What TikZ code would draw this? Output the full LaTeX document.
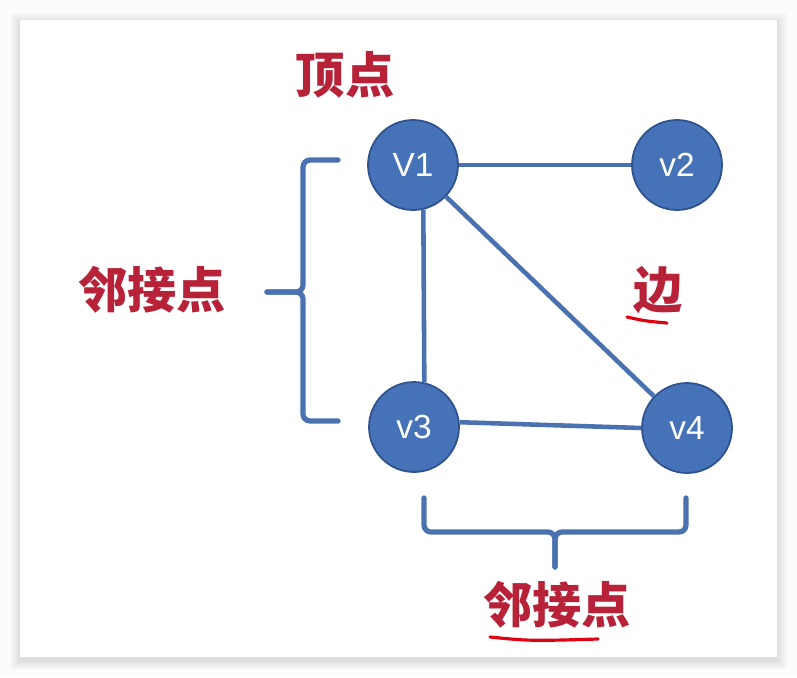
\documentclass[tikz,border=0pt]{standalone}
\usepackage{fontspec}
\setmainfont{Liberation Sans}
\newfontfamily\cjk{Noto Sans CJK SC}
\definecolor{vfill}{HTML}{4672B8}
\definecolor{vborder}{HTML}{2F528F}
\definecolor{eblue}{HTML}{4A72B0}
\definecolor{tagred}{HTML}{B72238}
\definecolor{penred}{HTML}{E00012}

\begin{document}
\begin{tikzpicture}[
        x=0.02cm, y=-0.02cm,
        vertex/.style={circle, draw=vborder, fill=vfill, line width=1pt, minimum size=1.8cm, inner sep=0pt, text=white, font=\fontsize{19}{22}\selectfont},
        edge/.style={draw=eblue, line width=2.6pt},
        bracket/.style={draw=eblue, line width=3pt, line cap=round, rounded corners=4pt},
        tag/.style={text=tagred, inner sep=0pt, font=\cjk\bfseries\fontsize{28}{32}\selectfont},
        redline/.style={draw=penred, line width=1.8pt, line cap=round}
      ]
        \useasboundingbox (0,0) rectangle (797,677);
        % slide with its shadow
        \fill[gray!2] (0,0) rectangle (797,677);
        \foreach \d in {1,...,10}
          \fill[black, opacity=0.01] (20-\d,20-\d+3) rectangle (777+\d,657+\d+3);
        \fill[white] (20,20) rectangle (777,657);

        \node[vertex] (V1) at (413,165) {V1};
        \node[vertex] (v2) at (677,165) {v2};
        \node[vertex] (v3) at (414,427) {v3};
        \node[vertex] (v4) at (687,428) {v4};
        \draw[edge] (V1)     -- (v2);
        \draw[edge] (V1.283) -- (v3.77);
        \draw[edge] (V1)     -- (v4);
        \draw[edge] (v3.6)   -- (v4.180);

        \node[tag] (vertexlbl) at (345,75)  {顶点};
        \node[tag] (adjleft)   at (152,290) {邻接点};
        \node[tag] (edgelbl)   at (658,290) {边};
        \node[tag] (adjbottom) at (557,605) {邻接点};

        % braces
        \draw[bracket] (338,160) -| (303,292) -- (267,292);
        \draw[bracket] (338,421) -| (303,292) -- (267,292);
        \draw[bracket] (424,498) |- (555,532) -- (555,567);
        \draw[bracket] (686,498) |- (555,532) -- (555,567);

        % pen marks
        \draw[redline] (627,317) .. controls (645,321) .. (667,323);
        \draw[redline] (490,637) .. controls (530,641) .. (598,639);
      \end{tikzpicture}
\end{document}
